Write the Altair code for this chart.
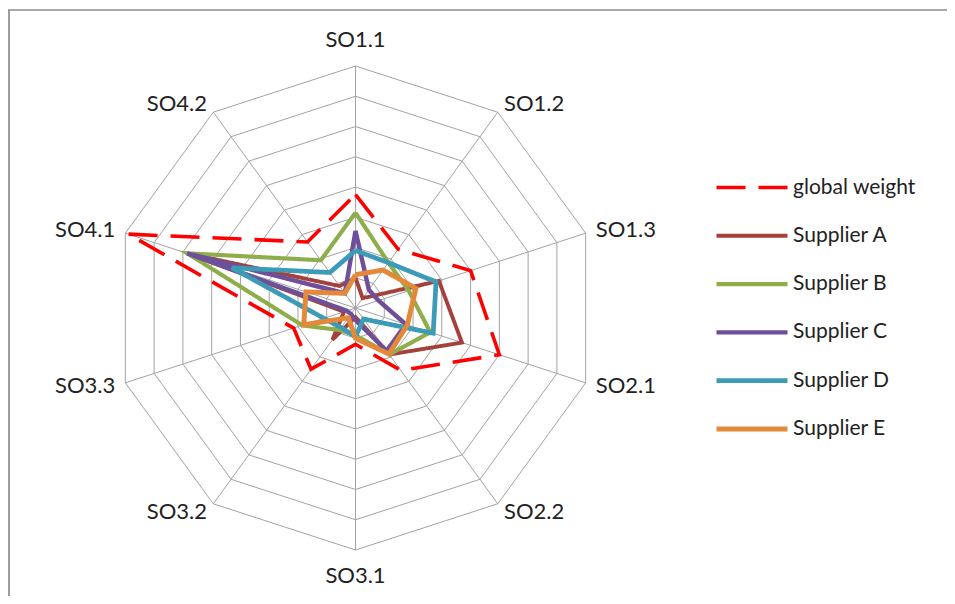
import altair as alt
import pandas as pd

AXES = ["SO1.1", "SO1.2", "SO1.3", "SO2.1", "SO2.2", "SO3.1", "SO3.2", "SO3.3", "SO4.1", "SO4.2"]
SERIES = ["global weight", "Supplier A", "Supplier B", "Supplier C", "Supplier D", "Supplier E"]

GLOBAL_WEIGHT = [3.75, 2.4, 4.0, 5.0, 2.55, 1.2, 2.5, 2.15, 7.9, 2.7]
SUPPLIER_A = [1.0, 0.4, 2.9, 3.7, 1.9, 0.3, 1.3, 0.4, 5.85, 0.9]
SUPPLIER_B = [3.15, 1.85, 1.85, 2.6, 1.9, 0.9, 0.9, 1.85, 5.85, 1.95]
SUPPLIER_C = [2.55, 0.75, 0.8, 1.75, 1.75, 0.4, 0.25, 0.3, 5.85, 0.6]
SUPPLIER_D = [1.9, 1.85, 2.8, 2.7, 0.45, 0.95, 0.8, 1.1, 4.3, 1.45]
SUPPLIER_E = [1.1, 1.55, 2.1, 1.8, 1.88, 1.0, 0.4, 1.8, 1.72, 0.6]
SERIES_VALUES = [GLOBAL_WEIGHT, SUPPLIER_A, SUPPLIER_B, SUPPLIER_C, SUPPLIER_D, SUPPLIER_E]

RINGS = [1, 2, 3, 4, 5, 6, 7, 8]

COLORS = ["#FF0000", "#A5413D", "#8DAE4B", "#6E4F9A", "#3C9BB6", "#E4893A"]
DASHES = [[29, 13], [1, 0], [1, 0], [1, 0], [1, 0], [1, 0]]
WIDTHS = [3.6, 5, 5, 5, 5, 5]

N = len(AXES)
R_MAX = max(RINGS)
LABEL_R_SIDE = 8.35
LABEL_R_POLE = 8.85

# layout
W, H = 939, 588
PX = 30.25          # pixels per ring
CX, CY = 347.5, 300  # centre of the radar inside the plot area
x_dom = [-CX / PX, (W - CX) / PX]
y_dom = [-(H - CY) / PX, CY / PX]
xs = alt.Scale(domain=x_dom, nice=False, zero=False)
ys = alt.Scale(domain=y_dom, nice=False, zero=False)

polar = dict(
    ang=f"datum.k * 2 * PI / {N}",
    px="datum.value * sin(datum.ang)",
    py="datum.value * cos(datum.ang)",
)

X = alt.X("px:Q", scale=xs, axis=None)
Y = alt.Y("py:Q", scale=ys, axis=None)

# data tables
rows = []
for s, vals in zip(SERIES, SERIES_VALUES):
    for k in range(N + 1):
        rows.append({"series": s, "k": k, "value": vals[k % N]})
series_df = pd.DataFrame(rows)

grid_df = pd.DataFrame([{"ring": r, "k": k, "value": r} for r in RINGS for k in range(N + 1)])
spoke_df = pd.DataFrame({"k": list(range(N)), "value": [R_MAX] * N})
label_df = pd.DataFrame({"axis": AXES, "k": list(range(N))})

GRID_COLOR = "#A3A3A3"

grid = alt.Chart(grid_df).transform_calculate(**polar).mark_line(
    color=GRID_COLOR, strokeWidth=1
).encode(x=X, y=Y, detail="ring:N", order="k:Q")

spokes = alt.Chart(spoke_df).transform_calculate(zero="0", **polar).mark_rule(
    color=GRID_COLOR, strokeWidth=1
).encode(
    x=alt.X("zero:Q", scale=xs, axis=None), y=alt.Y("zero:Q", scale=ys, axis=None),
    x2="px:Q", y2="py:Q"
)

def label_layer(filter_expr, radius, align):
    return alt.Chart(label_df).transform_filter(filter_expr).transform_calculate(
        value=str(radius), **polar
    ).mark_text(
        align=align, baseline="middle", font="Lato", fontSize=22, color="#222222"
    ).encode(x=X, y=Y, text="axis:N")

half = N // 2
labels_pole = label_layer(f"datum.k % {half} == 0", LABEL_R_POLE, "center")
labels_right = label_layer(f"datum.k > 0 && datum.k < {half}", LABEL_R_SIDE, "left")
labels_left = label_layer(f"datum.k > {half}", LABEL_R_SIDE, "right")

leg = alt.Legend(
    title=None, orient="none", legendX=706, legendY=169,
    symbolType="stroke", symbolSize=5041, labelFontSize=21, labelFont="Lato",
    labelColor="#222222", labelOffset=3, clipHeight=21, rowPadding=26.3,
    padding=0, symbolOffset=0, labelLimit=300,
)

lines = alt.Chart(series_df).transform_calculate(**polar).mark_line().encode(
    x=X, y=Y,
    color=alt.Color("series:N", scale=alt.Scale(domain=SERIES, range=COLORS), legend=leg),
    strokeDash=alt.StrokeDash("series:N", scale=alt.Scale(domain=SERIES, range=DASHES), legend=leg),
    strokeWidth=alt.StrokeWidth("series:N", scale=alt.Scale(domain=SERIES, range=WIDTHS), legend=leg),
    order="k:Q",
)

frame_df = pd.DataFrame({"a": [0]})
frame_top = alt.Chart(frame_df).mark_rule(color="#8C8C8C", strokeWidth=1.7).encode(
    x=alt.value(0), x2=alt.value(W), y=alt.value(2)
)
frame_left = alt.Chart(frame_df).mark_rule(color="#8C8C8C", strokeWidth=1.7).encode(
    x=alt.value(1), y=alt.value(2), y2=alt.value(H)
)

chart = alt.layer(
    grid, spokes, lines, labels_pole, labels_right, labels_left, frame_top, frame_left
).properties(
    width=W, height=H, autosize=alt.AutoSizeParams(type="none"), padding=0
).configure_view(stroke=None)

chart.save("out.html", embed_options={"renderer": "svg", "actions": False})
